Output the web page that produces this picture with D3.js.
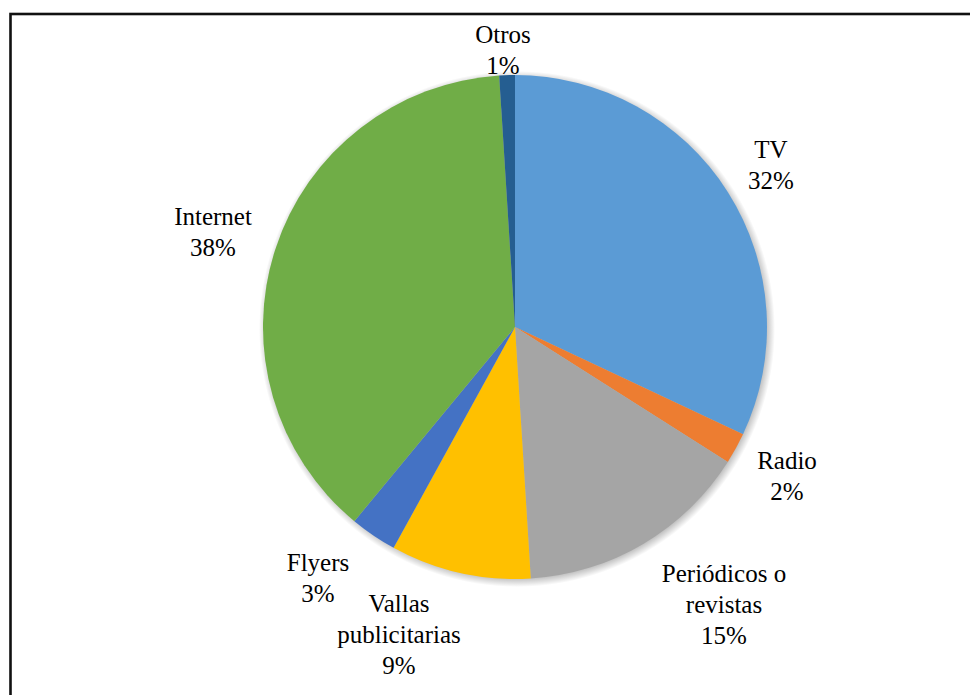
<!DOCTYPE html>
<html>
<head>
<meta charset="utf-8">
<script src="https://cdn.jsdelivr.net/npm/d3@7"></script>
<style>
  html, body { margin: 0; padding: 0; background: #ffffff; }
  svg { display: block; }
  svg text.lbl { font-family: "Times New Roman", "Liberation Serif", Tinos, serif !important; font-size: 25px; }
</style>
</head>
<body>
<svg id="chart" width="970" height="695"></svg>
<script>
// Media channels and their share (%)
const categories = ["TV", "Radio", "Periódicos o revistas", "Vallas publicitarias", "Flyers", "Internet", "Otros"];
const shares = [32, 2, 15, 9, 3, 38, 1];
const colors = ["#5B9BD5", "#ED7D31", "#A5A5A5", "#FFC000", "#4472C4", "#70AD47", "#255E91"];
// Label lines for each slice (name split over lines, then percentage)
const labelLines = [["TV"], ["Radio"], ["Periódicos o", "revistas"], ["Vallas", "publicitarias"], ["Flyers"], ["Internet"], ["Otros"]];

const cx = 515, cy = 327, R = 252;
const lineH = 31;

const svg = d3.select("#chart");

// chart frame
svg.append("rect")
  .attr("x", 10.5).attr("y", 14)
  .attr("width", 1000).attr("height", 1000)
  .attr("fill", "none").attr("stroke", "#111").attr("stroke-width", 2.6);

// soft shadow ring around the pie, drawn with a radial gradient
const defs = svg.append("defs");
const sh = R + 6;
const grad = defs.append("radialGradient").attr("id", "pieShadow")
  .attr("cx", "50%").attr("cy", "50%").attr("r", "50%");
grad.append("stop").attr("offset", ((R - 4) / sh).toFixed(3)).attr("stop-color", "#000").attr("stop-opacity", 0.28);
grad.append("stop").attr("offset", "1").attr("stop-color", "#000").attr("stop-opacity", 0);

const data = categories.map((c, i) => ({ name: c, value: shares[i], color: colors[i], lines: labelLines[i] }));

const pie = d3.pie().value(d => d.value).sort(null);
const arcs = pie(data);
const arc = d3.arc().innerRadius(0).outerRadius(R);

const g = svg.append("g").attr("transform", `translate(${cx},${cy})`);
g.append("circle").attr("cx", 2).attr("cy", 2).attr("r", sh).attr("fill", "url(#pieShadow)");
g.append("g").selectAll("path")
  .data(arcs)
  .enter().append("path")
  .attr("d", arc)
  .attr("fill", d => d.data.color);

// label anchor points (center of first line baseline), placed outside the pie
const labelPos = {
  "TV": [771, 158],
  "Radio": [787, 469],
  "Periódicos o revistas": [724, 582],
  "Vallas publicitarias": [399, 612],
  "Flyers": [318, 571],
  "Internet": [213, 225],
  "Otros": [503, 43]
};

// one centred text element per label line
const labels = svg.append("g");
arcs.forEach(a => {
  const [x, y] = labelPos[a.data.name];
  const lines = a.data.lines.concat([a.data.value + "%"]);
  lines.forEach((ln, i) => {
    labels.append("text")
      .attr("class", "lbl")
      .attr("text-anchor", "middle")
      .attr("fill", "#000")
      .attr("x", x)
      .attr("y", y + i * lineH)
      .text(ln);
  });
});
</script>
</body>
</html>
